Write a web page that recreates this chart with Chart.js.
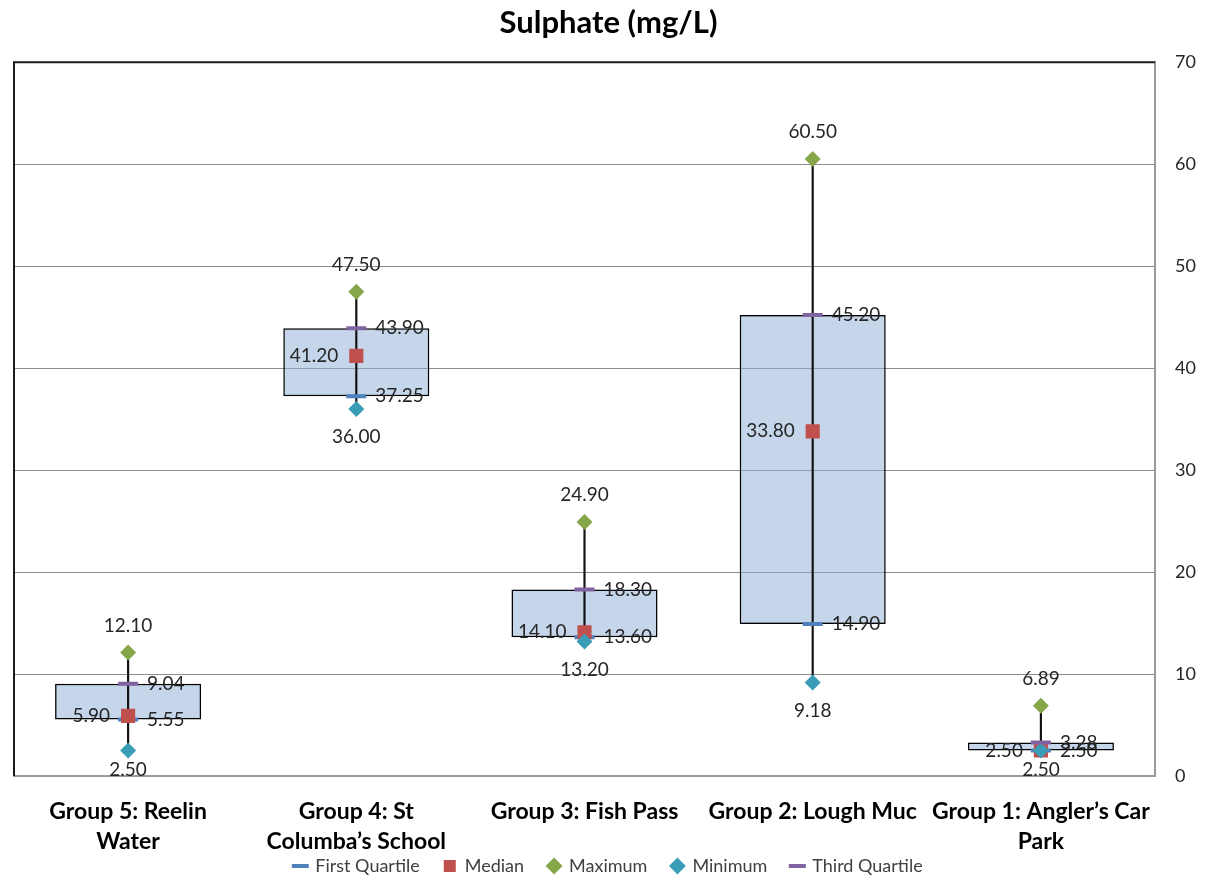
<!DOCTYPE html>
<html>
<head>
<meta charset="utf-8">
<title>Sulphate (mg/L)</title>
<script src="https://cdn.jsdelivr.net/npm/chart.js@4.4.1/dist/chart.umd.min.js"></script>
<style>
  html, body { margin: 0; padding: 0; background: #fff; }
  #wrap { width: 1206px; height: 878px; }
</style>
</head>
<body>
<div id="wrap"><canvas id="chart"></canvas></div>
<script>
const groups = [
  ['Group 5: Reelin', 'Water'],
  ['Group 4: St', 'Columba\u2019s School'],
  'Group 3: Fish Pass',
  'Group 2: Lough Muc',
  ['Group 1: Angler\u2019s Car', 'Park']
];
const minimum = [2.50, 36.00, 13.20, 9.18, 2.50];
const firstQuartile = [5.55, 37.25, 13.60, 14.90, 2.50];
const median = [5.90, 41.20, 14.10, 33.80, 2.50];
const thirdQuartile = [9.04, 43.90, 18.30, 45.20, 3.28];
const maximum = [12.10, 47.50, 24.90, 60.50, 6.89];
const yTicks = [0, 10, 20, 30, 40, 50, 60, 70];

const boxes = firstQuartile.map((q1, i) => [q1, thirdQuartile[i]]);
const whiskers = minimum.map((mn, i) => [mn, maximum[i]]);

const font = 'Lato, "Open Sans", sans-serif';

function markerSet(label, data, color, style, radius, border, order, labelPos) {
  return {
    type: 'line', label, data, order, labelPos,
    showLine: false,
    pointStyle: style,
    pointRadius: radius,
    pointHoverRadius: radius,
    pointBackgroundColor: color,
    pointBorderColor: color,
    pointBorderWidth: border,
    backgroundColor: color,
    borderColor: color
  };
}

// value labels next to each marker, plus the black top/left frame
const decorations = {
  id: 'decorations',
  afterLayout(chart) {
    // two-line category names hang down past the axis box, don't cut them off
    chart.scales.x._computeLabelArea = () => undefined;
  },
  afterDatasetsDraw(chart) {
    const { ctx, chartArea: a } = chart;
    ctx.save();
    ctx.font = '19px ' + font;
    ctx.fillStyle = '#262626';
    chart.data.datasets.forEach((ds, di) => {
      if (!ds.labelPos) return;
      const meta = chart.getDatasetMeta(di);
      meta.data.forEach((pt, i) => {
        const txt = ds.data[i].toFixed(2);
        let x = pt.x, y = pt.y;
        ctx.textBaseline = 'middle';
        if (ds.labelPos === 'top') { ctx.textAlign = 'center'; y -= 27; }
        else if (ds.labelPos === 'bottom') { ctx.textAlign = 'center'; y = Math.min(y + 28, a.bottom - 6); }
        else if (ds.labelPos === 'right') { ctx.textAlign = 'left'; x += 19; }
        else { ctx.textAlign = 'right'; x -= 18; }
        ctx.fillText(txt, x, y);
      });
    });
    ctx.strokeStyle = '#1a1a1a';
    ctx.lineWidth = 2;
    ctx.beginPath();
    ctx.moveTo(a.left, a.bottom);
    ctx.lineTo(a.left, a.top);
    ctx.lineTo(a.right, a.top);
    ctx.stroke();
    ctx.restore();
  }
};

new Chart(document.getElementById('chart'), {
  data: {
    labels: groups,
    datasets: [
      markerSet('First Quartile', firstQuartile, '#4F81BD', 'line', 10, 4, 4, 'right'),
      markerSet('Median', median, '#C0504D', 'rect', 10, 0, 3, 'left'),
      markerSet('Maximum', maximum, '#86A64A', 'rectRot', 8, 0, 2, 'top'),
      markerSet('Minimum', minimum, '#3A9DB8', 'rectRot', 8, 0, 1, 'bottom'),
      markerSet('Third Quartile', thirdQuartile, '#8064A2', 'line', 10, 4, 0, 'right'),
      {
        type: 'bar', label: 'box', data: boxes, order: 6,
        backgroundColor: 'rgba(141,173,213,0.5)',
        borderColor: '#000', borderWidth: 1.5, borderSkipped: false,
        grouped: false, categoryPercentage: 1, barPercentage: 0.64
      },
      {
        type: 'bar', label: 'whisker', data: whiskers, order: 5,
        backgroundColor: '#111', borderWidth: 0,
        grouped: false, barThickness: 1.5
      }
    ]
  },
  options: {
    responsive: true,
    maintainAspectRatio: false,
    animation: false,
    events: [],
    layout: { padding: { left: 11, right: 0, top: 0, bottom: 0 } },
    plugins: {
      title: {
        display: true,
        text: 'Sulphate (mg/L)',
        color: '#000',
        font: { family: font, size: 31, weight: 'bold' },
        padding: { top: 4, bottom: 21 }
      },
      legend: {
        position: 'bottom',
        maxHeight: 45,
        labels: {
          filter: item => item.text !== 'box' && item.text !== 'whisker',
          sort: (a, b) => a.datasetIndex - b.datasetIndex,
          usePointStyle: true,
          boxWidth: 12,
          boxHeight: 12,
          padding: 24,
          color: '#404040',
          font: { family: font, size: 18 }
        }
      },
      tooltip: { enabled: false }
    },
    scales: {
      x: {
        grid: { display: false },
        border: { display: true, color: '#9a9a9a', width: 2 },
        ticks: {
          color: '#000',
          padding: 13,
          maxRotation: 0,
          autoSkip: false,
          font: { family: font, size: 23, weight: 'bold', lineHeight: 1.3 }
        },
        afterFit(scale) {
          scale.height = 57;
          scale.paddingLeft = 0;
          scale.paddingRight = 0;
        }
      },
      y: {
        position: 'right',
        min: 0,
        max: 70,
        afterBuildTicks(scale) { scale.ticks = yTicks.map(v => ({ value: v })); },
        grid: { color: '#8c8c8c', lineWidth: 1, drawTicks: false },
        border: { display: true, color: '#9a9a9a', width: 2 },
        ticks: {
          color: '#262626',
          padding: 20,
          font: { family: font, size: 18 }
        },
        afterFit(scale) { scale.width = 51; }
      }
    }
  },
  plugins: [decorations]
});
</script>
</body>
</html>
